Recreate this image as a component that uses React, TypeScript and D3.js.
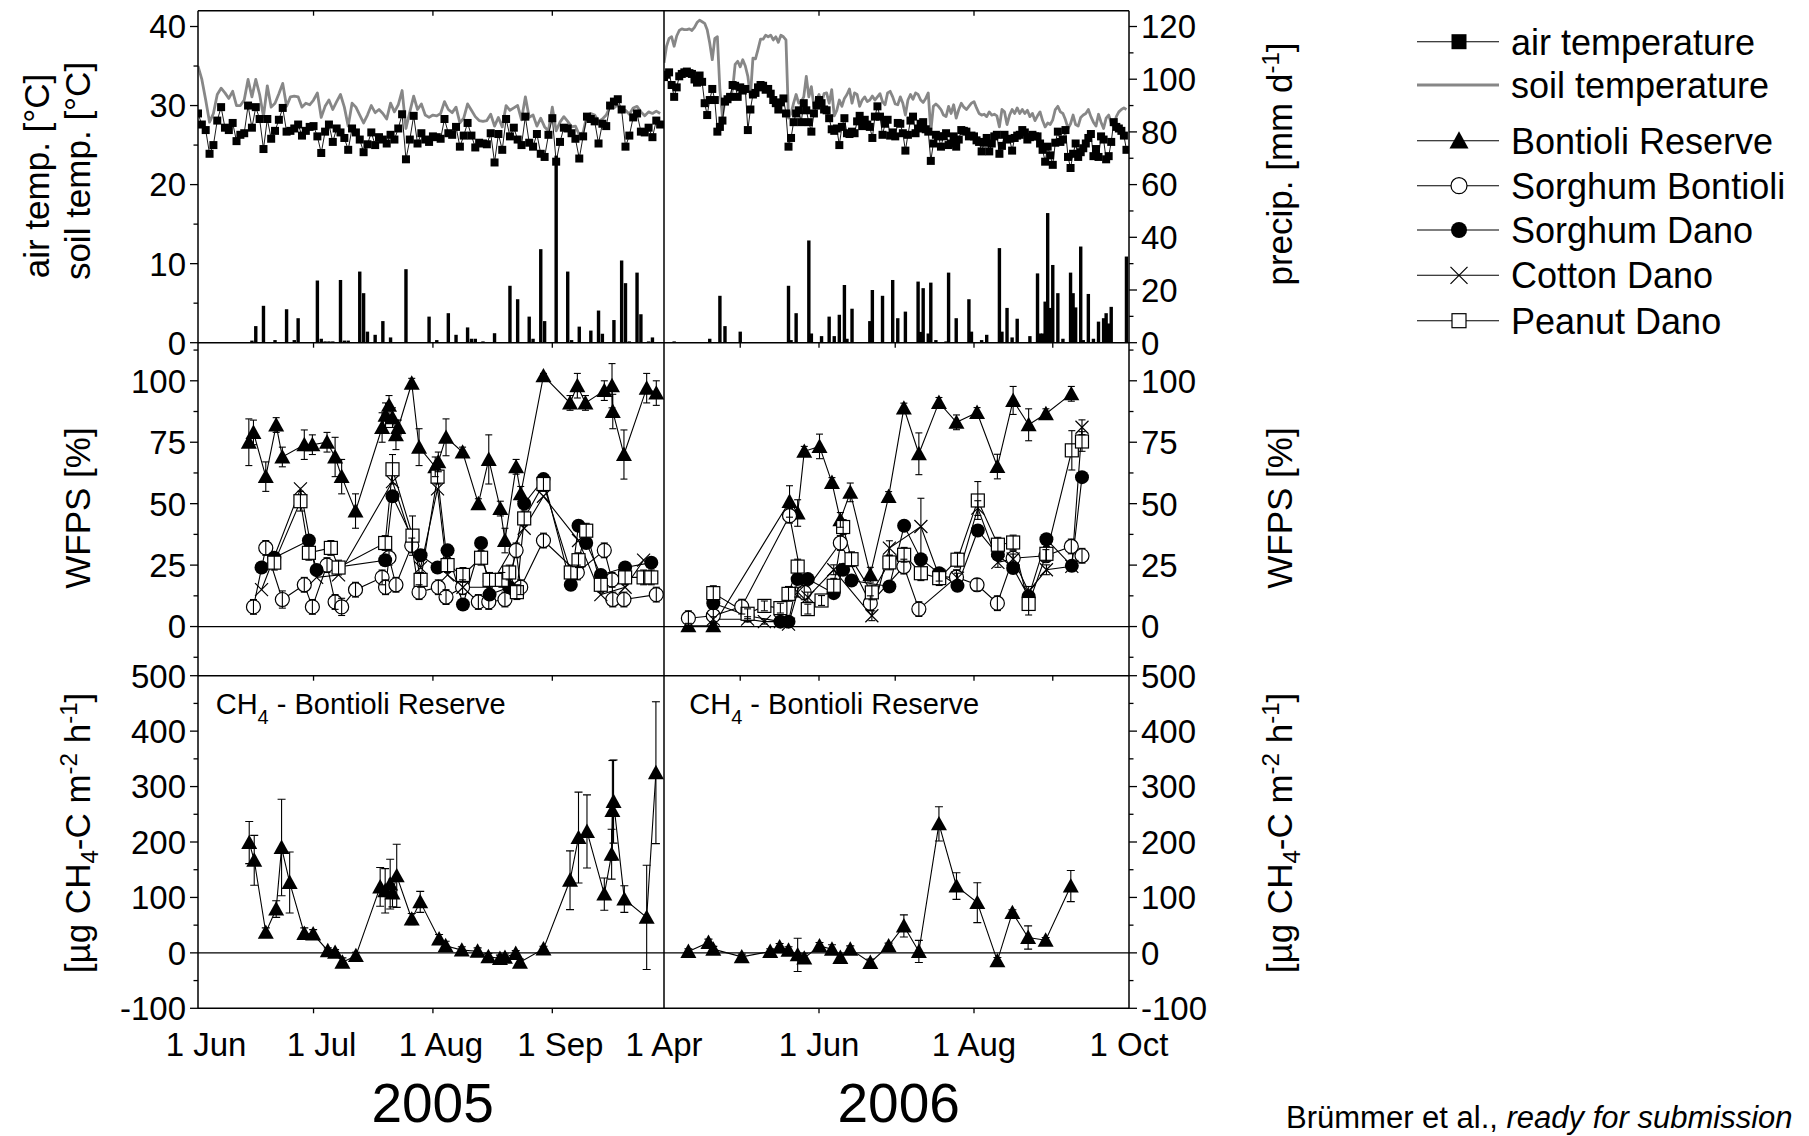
import React from 'react';
import * as d3 from 'd3';

const FONT = '"Liberation Sans", Arial, Helvetica, sans-serif';
const TICK_FONT = 33;
const TITLE_FONT = 35;
const LEGEND_FONT = 36;

// Season windows of the two columns
const START_2005 = new Date(2005, 5, 1);
const END_2005 = new Date(2005, 8, 30);
const START_2006 = new Date(2006, 3, 1);
const END_2006 = new Date(2006, 9, 1);

// Daily air / soil temperature (°C) from 1 Jun 2005
const airTemp2005 = [
  29.0, 27.6, 26.9, 23.9, 25.0, 28.1, 29.8, 27.2, 26.9, 27.8,
  25.5, 26.3, 26.5, 30.0, 27.2, 29.8, 28.3, 24.5, 28.3, 25.8,
  26.8, 28.2, 29.7, 26.7, 26.8, 27.1, 27.6, 26.2, 26.8, 27.3,
  27.4, 26.1, 24.0, 26.7, 27.6, 25.4, 27.1, 26.6, 25.9, 24.4,
  27.1, 26.6, 25.7, 24.1, 25.1, 26.6, 25.0, 26.0, 25.7, 25.2,
  26.3, 25.7, 27.1, 28.9, 23.2, 25.7, 28.7, 25.2, 26.5, 25.7,
  25.4, 26.1,
  26.0, 25.8, 28.3, 26.5, 26.3, 27.3, 24.8, 26.2, 27.8, 26.2,
  24.7, 25.3, 25.2, 25.1, 26.5, 22.8, 26.4, 24.4, 28.3, 26.1,
  27.2, 25.7, 25.0, 28.6, 25.3, 24.8, 26.4, 23.9, 23.5, 26.3,
  28.4, 22.9, 25.4, 27.2, 27.1, 26.5, 25.8, 23.3, 26.1, 28.6,
  28.3, 28.0, 25.2, 27.7, 27.4, 30.0, 30.5, 30.8, 29.5, 24.8,
  26.2, 28.5, 29.0, 26.7, 26.6, 27.2, 26.0, 28.1, 27.6,
];
const soilTemp2005 = [
  35.0, 33.3, 30.7, 27.9, 29.0, 31.4, 32.2, 31.6, 30.9, 31.8,
  30.0, 30.0, 30.7, 33.3, 31.1, 33.3, 31.4, 28.6, 32.5, 29.8,
  30.3, 31.5, 32.8, 29.9, 31.1, 31.2, 31.1, 29.8, 30.3, 30.1,
  30.7, 31.6, 28.5, 29.9, 30.7, 29.5, 30.5, 31.4, 29.8, 27.4,
  30.3, 29.8, 28.8, 27.8, 28.8, 30.0, 29.1, 29.5, 29.0, 28.3,
  30.3, 29.2, 30.1, 31.9, 27.1, 29.2, 31.2, 29.5, 30.2, 28.8,
  28.5, 28.8,
  28.7, 29.0, 30.5, 29.5, 29.1, 29.8, 27.8, 28.4, 30.2, 29.4,
  28.6, 28.1, 28.0, 28.1, 28.9, 27.4, 28.5, 27.3, 30.0, 29.4,
  29.7, 30.0, 28.2, 31.1, 28.5, 28.8, 27.4, 28.4, 27.3, 26.8,
  29.8, 26.8, 27.9, 28.6, 28.0, 27.3, 27.4, 26.3, 26.6, 28.8,
  29.0, 28.8, 28.0, 28.3, 28.8, 29.9, 29.7, 30.1, 29.2, 29.4,
  28.9, 29.7, 29.9, 29.2, 28.7, 29.2, 29.0, 29.3, 29.0,
];

// Daily air / soil temperature (°C) from 1 Apr 2006
const airTemp2006 = [
  33.6, 33.9, 34.2, 32.6, 31.1, 32.3, 33.7, 34.0, 34.2, 34.3,
  34.1, 34.0, 33.3, 32.9, 33.8, 33.0, 30.3, 28.8, 30.7, 32.1,
  30.7, 26.7, 27.3, 28.1, 30.5, 30.8, 31.1, 32.6, 32.5, 31.1,
  32.3, 31.9, 32.1, 26.9, 29.5, 31.4, 31.6, 32.3, 32.6, 32.5,
  32.0, 32.1, 31.5, 30.7, 30.3, 29.5, 30.4, 30.9, 29.0, 24.8,
  25.9, 27.9, 29.0, 29.4, 27.9, 30.3, 29.4, 27.9, 26.7, 29.0,
  30.0, 30.7, 30.3, 29.5, 29.4, 28.4, 27.0, 26.8, 27.1, 25.0,
  27.3, 28.4, 26.5, 26.4, 26.7, 26.5, 28.0, 28.7, 27.4, 28.2,
  27.6, 27.3, 25.9, 28.6, 29.9, 28.6, 26.3, 27.7, 28.2, 26.2,
  26.6, 26.1, 27.8,
  27.7, 26.5, 24.3, 26.3, 28.1, 28.6, 26.5, 27.1, 27.7, 27.9,
  27.0, 26.7, 23.0, 25.2, 26.3, 26.1, 24.8, 26.1, 26.5, 25.0,
  25.2, 26.1, 24.8, 25.7, 26.9, 26.8, 26.7, 26.1, 26.2, 26.1,
  25.6, 25.4, 24.2, 25.3, 25.9, 24.2, 25.2, 26.1, 26.3, 23.9,
  24.9, 26.3, 25.7, 25.8, 24.3, 25.9, 26.2, 26.3, 26.9, 26.6,
  25.7, 26.0, 26.3, 26.1, 26.1, 25.2, 24.4, 22.9, 24.8, 23.7,
  22.5, 25.3, 26.7, 25.4, 25.7, 26.9, 23.5, 22.1, 23.9, 25.2,
  23.5, 24.1, 24.6, 25.2, 25.9, 26.4, 23.6, 24.5, 23.5, 26.1,
  25.7, 23.2, 23.6, 25.4, 27.9, 27.3, 27.1, 26.8, 26.2, 24.4,
];
const soilTemp2006 = [
  35.4, 37.5, 38.5, 38.7, 37.5, 38.8, 39.5, 39.7, 39.6, 39.6,
  39.7, 39.5, 39.9, 40.5, 40.8, 40.6, 40.4, 39.6, 37.9, 35.8,
  38.5, 38.7, 32.0, 28.6, 30.7, 31.1, 31.1, 32.0, 35.2, 35.6,
  34.9, 35.8, 35.0, 33.7, 31.1, 36.0, 35.9, 37.1, 38.4, 38.4,
  38.9, 38.7, 38.9, 38.3, 38.7, 38.0, 38.9, 38.7, 38.3, 28.4,
  29.0, 30.3, 31.4, 30.3, 30.5, 31.1, 33.7, 31.1, 32.4, 29.9,
  30.7, 31.4, 30.3, 31.5, 31.6, 30.3, 32.0, 28.7, 29.4, 30.7,
  29.9, 30.9, 31.4, 32.1, 30.3, 31.6, 31.4, 29.9, 30.7, 31.1,
  30.5, 30.7, 31.2, 30.7, 31.1, 31.5, 30.5, 30.1, 31.6, 31.8,
  31.1, 30.2, 30.1,
  31.1, 30.3, 28.8, 30.7, 31.4, 30.8, 31.6, 31.4, 30.7,
  30.4, 30.9, 31.6, 26.7, 29.9, 30.2, 29.9, 29.5, 28.8, 28.6,
  29.9, 29.0, 30.1, 28.4, 29.5, 30.3, 29.8, 29.5, 29.9, 30.3,
  30.5, 29.7, 29.0, 28.8, 28.9, 28.6, 29.2, 28.8, 28.9, 28.7,
  27.3, 29.5, 29.2, 27.6, 28.8, 29.5, 29.0, 29.7, 29.0, 29.5,
  29.0, 29.4, 28.6, 29.0, 28.1, 28.7, 29.2, 28.1, 27.3, 27.8,
  27.6, 28.2, 29.5, 29.9, 29.2, 29.0, 28.2, 27.1, 27.7, 28.8,
  27.6, 27.4, 28.5, 28.8, 29.0, 29.5, 28.6, 27.9, 27.4, 28.9,
  27.9, 27.1, 28.4, 28.8, 27.8, 27.3, 28.6, 29.2, 29.5, 29.7,
  29.5,
];

// Daily precipitation (mm d-1); day = days after season start
const precipDay2005 = [14, 15, 17, 20, 23, 25, 26, 31, 32, 33, 34, 35, 37, 38, 39, 42, 43, 44, 46, 48, 50, 54, 60, 62, 65, 67, 70, 71, 72, 74, 77, 81, 83, 86, 87, 89, 90, 93, 96, 97, 99, 102, 104, 105, 108, 110, 111, 112, 114, 115, 117, 118];
const precipMm2005 = [0.8, 6.3, 14, 1, 12.7, 1, 9.3, 23.6, 1.5, 0.5, 0.5, 0.5, 23.8, 0.8, 0.8, 27, 18.8, 4.2, 3, 8.2, 2, 27.9, 9.9, 1, 11.2, 3, 5.8, 1.5, 1.5, 0.5, 3.6, 21.6, 16.5, 9.9, 1.5, 35.5, 8.2, 71, 27, 1, 6.1, 4.6, 12.2, 3.4, 8.6, 31.2, 22.6, 0.5, 26.6, 10.8, 0.5, 2];
const precipDay2006 = [4, 18, 22, 24, 30, 49, 50, 52, 57, 58, 62, 65, 67, 69, 71, 72, 74, 81, 82, 86, 90, 92, 95, 100, 101, 102, 104, 105, 107, 111, 112, 115, 120, 121, 125, 127, 132, 133, 135, 137, 139, 144, 147, 148, 149, 150, 151, 152, 153, 155, 157, 160, 161, 162, 164, 165, 167, 169, 171, 173, 174, 175, 176, 182];
const precipMm2006 = [0.5, 1.5, 17.8, 6.3, 4.2, 21.6, 1, 11.2, 38.8, 3.5, 2.5, 9.9, 2.5, 10.6, 21.9, 1.5, 12.9, 8.2, 20, 17.8, 23.8, 9.3, 11.8, 23.2, 4.1, 20.7, 3.5, 22.8, 1, 0.5, 26.6, 9.3, 16.5, 4.2, 1, 3, 35.9, 4.2, 13.2, 2, 9.1, 2.5, 26.3, 3.5, 3.5, 15.6, 49.2, 13.2, 29.5, 18.8, 1.5, 26.6, 18.8, 13.4, 36.5, 1, 18.5, 1.5, 8, 9.3, 11.2, 7.3, 13.6, 32.7];

// WFPS (%) at the Bontioli site, 2005 (day = days after 1 Jun)
const bontioliDay2005 = [13.2, 14.4, 17.6, 20.3, 21.9, 27.6, 29.7, 33.5, 35.6, 37.3, 40.9, 47.8, 48.7, 49.6, 50.5, 51.4, 52.0, 55.5, 57.4, 61.6, 62.4, 64.4, 68.7, 72.8, 75.5, 78.5, 79.7, 82.6, 83.8, 89.7, 96.6, 98.5, 100.6, 105.5, 107.5, 107.7, 110.6, 116.5, 119.0];
const wfpsReserve2005 = [75, 79, 61, 82, 69, 74, 74, 75, 69, 61, 47, 81, 86, 90, 85, 78, 81, 99, 73, 65, 67, 77, 71, 50, 68, 48, 35, 65, 54, 102, 91, 98, 91, 96, 98, 87.5, 70, 97, 95];
const wfpsReserveSd2005 = [9.5, 5, 6, 3, 4, 6, 4, 4, 8, 7, 7, 6, 5, 4, 4, 6, 3, 2, 7.5, 4, 4, 7.5, 2, 2, 10, 3, 5, 3, 3, 1, 3, 5, 3, 4, 9, 7, 10, 6, 5];
const wfpsSorghumB2005 = [null, 8, 32, null, 11, 17, 8, 25, 10, 8, 15, 20, 16, 28, null, 17, null, 33, 14, null, 16, 12, 16, 10, 10, null, 11, 31, 16, 35, null, 22, null, 31, 19, 11, 11, null, 13];
const wfpsSorghumBSd2005 = [null, 3, 3, null, 3.5, 3, 3, 3, 3, 3.5, 3, 3, 3, 3, null, 3, null, 3, 3, null, 3, 3, 3, 3, 3, null, 3, 3, 3, 3, null, 3, null, 3, 3, 3, 3, null, 3];

// WFPS (%) at the Dano site, 2005
const danoDay2005 = [16.5, 19.8, 26.6, 28.8, 30.8, 34.5, 36.5, 48.6, 50.5, 55.7, 57.8, 62.2, 64.8, 68.8, 73.5, 75.7, 78.9, 80.8, 82.8, 84.7, 89.7, 96.8, 98.8, 100.8, 104.6, 110.9, 115.7, 117.7];
const wfpsSorghumD2005 = [24, 28, null, 35, 23, null, null, 27, 53, null, 29, 24, 31, 9, 34, 13, null, 16, null, 50, 60, 17, 41, 34, 21, 24, null, 26];
const wfpsCotton2005 = [15, null, 56, null, 20, null, 21, null, 59, null, 24, 56, 21, 16, null, 16, null, null, null, 40, 53, null, 35, null, 13, 16, 27, null];
const wfpsPeanut2005 = [null, 26, 51, 30, null, 32, 24, 34, 64, 37, 19, 61, 25, 21, 28, 19, 19, 22, 14, 44, 58, 22, 27, 39, 17, 20, 20, 20];
const wfpsPeanutSd2005 = [null, 3, 4, 3, null, 3, 3, 3, 6, 8, 3, 3, 3, 3, 3, 3, 3, 3, 3, 3, 3, 3, 3, 3, 3, 3, 3, 3];

// WFPS (%) at the Bontioli site, 2006 (day = days after 1 Apr)
const bontioliDay2006 = [9.6, 19.4, 30.6, 49.4, 52.6, 55.2, 61.2, 66.1, 69.4, 73.3, 81.2, 88.4, 94.4, 100.3, 108.2, 115.1, 123.2, 131.2, 137.4, 143.5, 150.3, 160.3, 164.5];
const wfpsReserve2006 = [0.3, 0.3, null, 50.9, 46.2, 71.3, 73.3, 58.6, 43.4, 54.6, 21.1, 52.9, 88.9, 70.3, 91.2, 83.1, 87.1, 65.1, 92.0, 82.1, 86.6, 94.7, null];
const wfpsReserveSd2006 = [1, 1, null, 6.4, 5.4, 2, 5, 2, 3, 3.8, 3, 2, 2, 8.5, 2, 3, 2, 5, 5.7, 6.5, 2, 3, null];
const wfpsSorghumB2006 = [3.4, 4.4, 8.1, 45.1, null, 13.9, null, null, 34.0, null, 9.5, null, 24.4, 7.1, null, 20.1, 17.0, 9.5, 27.8, null, 28.8, 32.6, 28.8];
const wfpsSorghumBSd2006 = [3, 3, 3, 3, null, 3, null, null, 3, null, 3, null, 3, 3, null, 3, 2.5, 3, 3, null, 2.5, 3, 3];

// WFPS (%) at the Dano site, 2006
const danoDay2006 = [19.4, 32.9, 39.5, 45.8, 49.0, 52.6, 56.6, 62.0, 66.8, 70.5, 73.8, 81.8, 88.7, 94.5, 101.1, 108.3, 115.5, 123.5, 131.4, 137.4, 143.5, 150.5, 160.5, 164.5];
const wfpsSorghumD2006 = [9.5, 4.4, null, 2, 2, 19.3, 19.3, null, 13.6, 23.1, 18.7, null, 16.3, 41.0, 27.4, 21.7, 16.6, 39.1, 29.2, 23.8, 12.2, 35.5, 24.7, 60.8];
const wfpsCotton2006 = [3, 3, 2, 2, 1, 14, 12, null, 23.1, null, null, 4.4, 31.9, null, 40.7, 20.5, 19.7, 48.2, 26.1, 27.5, 14.3, 23.1, 24.5, 81.1];
const wfpsCottonSd2006 = [1, 1, 1, 1, 1, 2, 2, null, 2, null, null, 2, 3, null, 11.5, 2, 2, 3, 2, 2, 2, 2, 2, 3];
const wfpsPeanut2006 = [13.6, 5.2, 8.4, 7.5, 13.3, 24.4, 7.1, 10.6, 16.6, 40.5, 27.4, 13.9, 26.1, 29.2, 21.7, 19.7, 27.2, 51.3, 33.3, 34.2, 9.2, 29.6, 71.7, 75.3];
const wfpsPeanutSd2006 = [3, 2, 2, 2, 3, 3, 2, 2, 3, 3, 3, 3, 3, 3, 3, 3, 3, 7.7, 3, 3, 4.5, 3, 8, 4];

// CH4 flux (µg CH4-C m-2 h-1), Bontioli Reserve
const ch4Day2005 = [13.3, 14.6, 17.6, 20.3, 21.7, 23.8, 27.6, 29.9, 33.7, 35.6, 37.5, 41.0, 47.3, 48.6, 49.9, 50.5, 51.6, 55.5, 57.7, 62.6, 64.3, 68.5, 72.6, 75.4, 78.4, 79.7, 82.5, 83.6, 89.7, 96.6, 98.8, 101.0, 105.5, 107.4, 107.6, 107.9, 110.7, 116.5, 118.9];
const ch4Reserve2005 = [199, 167, 37, 79, 190, 127, 35, 34, 4, 1, -17, -5, 119, 112, 124, 108, 139, 61, 92, 25, 13, 5, 3, -7, -10, -8, -1, -17, 7, 131, 208, 219, 106, 178, 257, 273, 97, 64, 325];
const ch4ReserveSd2005 = [38, 45, 8, 15, 87, 55, 10, 8, 5, 5, 8, 6, 35, 40, 45, 25, 57, 10, 19, 8, 8, 6, 6, 6, 6, 6, 5, 6, 5, 53, 82, 66, 29, 45, 90, 75, 24, 94, 128];
const ch4Day2006 = [9.6, 17.5, 19.4, 30.6, 41.8, 45.5, 49.0, 52.6, 55.2, 61.2, 66.1, 69.4, 73.3, 81.2, 88.4, 94.4, 100.3, 108.2, 115.1, 123.3, 131.2, 137.1, 143.3, 150.2, 160.1];
const ch4Reserve2006 = [2.5, 18.7, 6.7, -7.2, 2.5, 10.8, 4.9, -3.6, -9.5, 12.6, 6.7, -8.3, 6.7, -17.3, 12.6, 48.6, 2.5, 232.7, 120.5, 90.6, -14.4, 72.7, 27.7, 22.8, 120.5];
const ch4ReserveSd2006 = [5, 6, 5, 5, 5, 6, 6, 30, 8, 6, 8, 6, 6, 6, 5, 20, 20, 31, 24, 36, 6, 5, 21, 5, 28];

// Axis ticks
const tempTicks = [0, 10, 20, 30, 40];
const tempMinor = [5, 15, 25, 35];
const precipTicks = [0, 20, 40, 60, 80, 100, 120];
const precipMinor = [10, 30, 50, 70, 90, 110];
const wfpsTicks = [0, 25, 50, 75, 100];
const wfpsMinor = [-12.5, 12.5, 37.5, 62.5, 87.5, 112.5];
const ch4Ticks = [-100, 0, 100, 200, 300, 400, 500];
const ch4Minor = [-50, 50, 150, 250, 350, 450];
const monthLabels2005 = ['1 Jun', '1 Jul', '1 Aug', '1 Sep'];
const monthDates2005 = [new Date(2005, 5, 1), new Date(2005, 6, 1), new Date(2005, 7, 1), new Date(2005, 8, 1)];
const monthLabels2006 = ['1 Apr', '1 Jun', '1 Aug', '1 Oct'];
const monthDates2006 = [new Date(2006, 3, 1), new Date(2006, 5, 1), new Date(2006, 7, 1), new Date(2006, 9, 1)];
const monthTicks2006 = [new Date(2006, 4, 1), new Date(2006, 5, 1), new Date(2006, 6, 1), new Date(2006, 7, 1), new Date(2006, 8, 1)];

const legendItems = [
  { label: 'air temperature', kind: 'squareFill' },
  { label: 'soil temperature', kind: 'grey' },
  { label: 'Bontioli Reserve', kind: 'tri' },
  { label: 'Sorghum Bontioli', kind: 'circleOpen' },
  { label: 'Sorghum Dano', kind: 'circleFill' },
  { label: 'Cotton Dano', kind: 'cross' },
  { label: 'Peanut Dano', kind: 'squareOpen' },
];

// Layout
const X05: [number, number] = [198, 664];
const X06: [number, number] = [664, 1129];
const Y_TOP: [number, number] = [10.7, 342.7];
const Y_MID: [number, number] = [342.7, 675.7];
const Y_BOT: [number, number] = [675.7, 1008.3];
const LABEL_SHIFT_2005 = 8;

const x05 = d3.scaleTime().domain([START_2005, END_2005]).range(X05);
const x06 = d3.scaleTime().domain([START_2006, END_2006]).range(X06);
const tempY = d3.scaleLinear().domain([0, 42]).range([Y_TOP[1], Y_TOP[0]]);
const precipY = d3.scaleLinear().domain([0, 126]).range([Y_TOP[1], Y_TOP[0]]);
const wfpsY = d3.scaleLinear().domain([-20, 115.5]).range([Y_MID[1], Y_MID[0]]);
const ch4Y = d3.scaleLinear().domain([-100, 500]).range([Y_BOT[1], Y_BOT[0]]);

const at = (start: Date, day: number) => new Date(start.getTime() + day * 86400000);

type P = { day: number; v: number; sd: number };
function pts(days: number[], vals: (number | null)[], sds?: (number | null)[]): P[] {
  const out: P[] = [];
  days.forEach((day, i) => {
    const v = vals[i];
    if (v !== null && v !== undefined) {
      const s = sds ? sds[i] : null;
      out.push({ day, v, sd: s == null ? 0 : s });
    }
  });
  return out;
}

function Sym({ kind, x, y, s }: { kind: string; x: number; y: number; s: number }) {
  switch (kind) {
    case 'tri': {
      const h = s * 0.9;
      return <path d={`M${x},${y - h * 0.55}L${x + s / 2},${y + h * 0.45}L${x - s / 2},${y + h * 0.45}Z`} fill="#000" />;
    }
    case 'circleOpen':
      return <circle cx={x} cy={y} r={s / 2} fill="#fff" stroke="#000" strokeWidth={1.2} />;
    case 'circleFill':
      return <circle cx={x} cy={y} r={s / 2} fill="#000" />;
    case 'cross':
      return <path d={`M${x - s / 2},${y - s / 2}L${x + s / 2},${y + s / 2}M${x - s / 2},${y + s / 2}L${x + s / 2},${y - s / 2}`} stroke="#000" strokeWidth={1.2} fill="none" />;
    case 'squareOpen':
      return <rect x={x - s / 2} y={y - s / 2} width={s} height={s} fill="#fff" stroke="#000" strokeWidth={1.2} />;
    default:
      return <rect x={x - s / 2} y={y - s / 2} width={s} height={s} fill="#000" />;
  }
}

type Spec = { data: P[]; kind: string; size: number };

function ScatterGroup({ specs, xs, start, ys, capW = 8 }: { specs: Spec[]; xs: d3.ScaleTime<number, number>; start: Date; ys: d3.ScaleLinear<number, number>; capW?: number }) {
  const line = d3.line<P>().x((p) => xs(at(start, p.day))).y((p) => ys(p.v));
  return (
    <g>
      {specs.map((sp, i) => (
        <path key={'l' + i} d={line(sp.data) || ''} fill="none" stroke="#000" strokeWidth={1.1} />
      ))}
      {specs.map((sp, i) => (
        <g key={'s' + i}>
          {sp.data.map((p, j) => (
            <Sym key={j} kind={sp.kind} x={xs(at(start, p.day))} y={ys(p.v)} s={sp.size} />
          ))}
        </g>
      ))}
      {specs.map((sp, i) => (
        <g key={'e' + i} stroke="#000" strokeWidth={1.1}>
          {sp.data.filter((p) => p.sd > 0).map((p, j) => {
            const x = xs(at(start, p.day));
            const y1 = ys(p.v - p.sd);
            const y2 = ys(p.v + p.sd);
            return (
              <g key={j}>
                <line x1={x} x2={x} y1={y1} y2={y2} />
                <line x1={x - capW / 2} x2={x + capW / 2} y1={y1} y2={y1} />
                <line x1={x - capW / 2} x2={x + capW / 2} y1={y2} y2={y2} />
              </g>
            );
          })}
        </g>
      ))}
    </g>
  );
}

function TempPanel({ xs, start, air, soil, pDay, pMm }: { xs: d3.ScaleTime<number, number>; start: Date; air: number[]; soil: number[]; pDay: number[]; pMm: number[] }) {
  const tLine = d3.line<number>().x((_, i) => xs(at(start, i))).y((v) => tempY(v));
  return (
    <g>
      {pDay.map((d, i) => {
        const x = xs(at(start, d));
        return <rect key={i} x={x - 1.7} width={3.4} y={precipY(pMm[i])} height={precipY(0) - precipY(pMm[i])} fill="#000" />;
      })}
      <path d={tLine(soil) || ''} fill="none" stroke="#878787" strokeWidth={2.8} strokeLinejoin="round" />
      <path d={tLine(air) || ''} fill="none" stroke="#000" strokeWidth={0.9} />
      {air.map((v, i) => (
        <rect key={i} x={xs(at(start, i)) - 4} y={tempY(v) - 4} width={8} height={8} fill="#000" />
      ))}
    </g>
  );
}

function YAxis({ scale, major, minor, side, x }: { scale: d3.ScaleLinear<number, number>; major: number[]; minor: number[]; side: 'left' | 'right'; x: number }) {
  const dir = side === 'left' ? -1 : 1;
  return (
    <g>
      {major.map((v) => (
        <line key={'M' + v} x1={x} x2={x + dir * 8} y1={scale(v)} y2={scale(v)} stroke="#000" strokeWidth={1.3} />
      ))}
      {minor.map((v) => (
        <line key={'m' + v} x1={x} x2={x + dir * 4.5} y1={scale(v)} y2={scale(v)} stroke="#000" strokeWidth={1.3} />
      ))}
      {major.map((v) => (
        <text key={'t' + v} x={x + dir * 12} y={scale(v)} dy="0.36em" textAnchor={side === 'left' ? 'end' : 'start'} fontSize={TICK_FONT}>
          {String(v)}
        </text>
      ))}
    </g>
  );
}

function XTicks({ xs, dates, y, len = 5 }: { xs: d3.ScaleTime<number, number>; dates: Date[]; y: number; len?: number }) {
  return (
    <g stroke="#000" strokeWidth={1.3}>
      {dates.map((d, i) => (
        <line key={i} x1={xs(d)} x2={xs(d)} y1={y} y2={y + len} />
      ))}
    </g>
  );
}

function VTitle({ x, y, children }: { x: number; y: number; children: React.ReactNode }) {
  return (
    <text transform={`translate(${x},${y}) rotate(-90)`} textAnchor="middle" dy="0.35em" fontSize={TITLE_FONT}>
      {children}
    </text>
  );
}

function Ch4Title({ x, y }: { x: number; y: number }) {
  return (
    <VTitle x={x} y={y}>
      [µg CH<tspan fontSize={24} dy="8">4</tspan>
      <tspan dy="-8">-C m</tspan>
      <tspan fontSize={24} dy="-13">-2</tspan>
      <tspan dy="13"> h</tspan>
      <tspan fontSize={24} dy="-13">-1</tspan>
      <tspan dy="13">]</tspan>
    </VTitle>
  );
}

function InnerLabel({ x, y }: { x: number; y: number }) {
  return (
    <text x={x} y={y} fontSize={29}>
      CH<tspan fontSize={20} dy="10">4</tspan>
      <tspan dy="-10"> - Bontioli Reserve</tspan>
    </text>
  );
}

function LegendSym({ kind, x, y }: { kind: string; x: number; y: number }) {
  if (kind === 'grey') return null;
  const size = kind === 'tri' ? 19 : kind === 'cross' ? 17 : kind === 'squareOpen' ? 14 : kind === 'squareFill' ? 15 : 16;
  return <Sym kind={kind} x={x} y={y} s={size} />;
}

export default function App() {
  const y2005 = {
    br: pts(bontioliDay2005, wfpsReserve2005, wfpsReserveSd2005),
    sb: pts(bontioliDay2005, wfpsSorghumB2005, wfpsSorghumBSd2005),
    sd: pts(danoDay2005, wfpsSorghumD2005),
    cd: pts(danoDay2005, wfpsCotton2005),
    pd: pts(danoDay2005, wfpsPeanut2005, wfpsPeanutSd2005),
  };
  const y2006 = {
    br: pts(bontioliDay2006, wfpsReserve2006, wfpsReserveSd2006),
    sb: pts(bontioliDay2006, wfpsSorghumB2006, wfpsSorghumBSd2006),
    sd: pts(danoDay2006, wfpsSorghumD2006),
    cd: pts(danoDay2006, wfpsCotton2006, wfpsCottonSd2006),
    pd: pts(danoDay2006, wfpsPeanut2006, wfpsPeanutSd2006),
  };
  const wfpsSpecs = (s: typeof y2005): Spec[] => [
    { data: s.br, kind: 'tri', size: 16 },
    { data: s.sb, kind: 'circleOpen', size: 14 },
    { data: s.sd, kind: 'circleFill', size: 14 },
    { data: s.cd, kind: 'cross', size: 13 },
    { data: s.pd, kind: 'squareOpen', size: 13 },
  ];
  const legendY = [41.7, 85, 140.7, 185.7, 230, 275.3, 320.7];

  return (
    <svg width={1809} height={1136} style={{ position: 'absolute', left: 0, top: 0, background: '#fff' }} fontFamily={FONT}>
      <defs>
        <clipPath id="clipL"><rect x={X05[0]} y={Y_TOP[0]} width={X05[1] - X05[0]} height={Y_BOT[1] - Y_TOP[0]} /></clipPath>
        <clipPath id="clipR"><rect x={X06[0]} y={Y_TOP[0]} width={X06[1] - X06[0]} height={Y_BOT[1] - Y_TOP[0]} /></clipPath>
      </defs>
      <rect width={1809} height={1136} fill="#fff" />

      {/* zero reference lines */}
      <line x1={X05[0]} x2={X06[1]} y1={wfpsY(0)} y2={wfpsY(0)} stroke="#000" strokeWidth={1.2} />
      <line x1={X05[0]} x2={X06[1]} y1={ch4Y(0)} y2={ch4Y(0)} stroke="#000" strokeWidth={1.2} />

      <g clipPath="url(#clipL)">
        <TempPanel xs={x05} start={START_2005} air={airTemp2005} soil={soilTemp2005} pDay={precipDay2005} pMm={precipMm2005} />
        <ScatterGroup specs={wfpsSpecs(y2005)} xs={x05} start={START_2005} ys={wfpsY} capW={7} />
        <ScatterGroup specs={[{ data: pts(ch4Day2005, ch4Reserve2005, ch4ReserveSd2005), kind: 'tri', size: 16 }]} xs={x05} start={START_2005} ys={ch4Y} capW={8} />
      </g>
      <g clipPath="url(#clipR)">
        <TempPanel xs={x06} start={START_2006} air={airTemp2006} soil={soilTemp2006} pDay={precipDay2006} pMm={precipMm2006} />
        <ScatterGroup specs={wfpsSpecs(y2006)} xs={x06} start={START_2006} ys={wfpsY} capW={7} />
        <ScatterGroup specs={[{ data: pts(ch4Day2006, ch4Reserve2006, ch4ReserveSd2006), kind: 'tri', size: 16 }]} xs={x06} start={START_2006} ys={ch4Y} capW={8} />
      </g>

      {/* frames */}
      <g stroke="#000" strokeWidth={1.5} fill="none">
        {[Y_TOP[0], Y_TOP[1], Y_MID[1], Y_BOT[1]].map((y) => (
          <line key={y} x1={X05[0]} x2={X06[1]} y1={y} y2={y} />
        ))}
        {[X05[0], X05[1], X06[1]].map((x) => (
          <line key={x} x1={x} x2={x} y1={Y_TOP[0]} y2={Y_BOT[1]} />
        ))}
      </g>

      {/* time ticks */}
      {[Y_TOP[0], Y_TOP[1], Y_MID[1], Y_BOT[1]].map((y) => (
        <XTicks key={'a' + y} xs={x05} dates={monthDates2005.slice(1)} y={y} />
      ))}
      {[Y_TOP[0], Y_BOT[1]].map((y) => (
        <XTicks key={'b' + y} xs={x06} dates={monthDates2006.slice(1, 3)} y={y} />
      ))}
      {[Y_TOP[1], Y_MID[1]].map((y) => (
        <XTicks key={'c' + y} xs={x06} dates={monthTicks2006} y={y} />
      ))}
      {monthLabels2005.map((l, i) => (
        <text key={l} x={x05(monthDates2005[i]) + LABEL_SHIFT_2005} y={1056} textAnchor="middle" fontSize={TICK_FONT}>{l}</text>
      ))}
      {monthLabels2006.map((l, i) => (
        <text key={l} x={x06(monthDates2006[i])} y={1056} textAnchor="middle" fontSize={TICK_FONT}>{l}</text>
      ))}

      {/* value axes */}
      <YAxis scale={tempY} major={tempTicks} minor={tempMinor} side="left" x={X05[0]} />
      <YAxis scale={precipY} major={precipTicks} minor={precipMinor} side="right" x={X06[1]} />
      <YAxis scale={wfpsY} major={wfpsTicks} minor={wfpsMinor} side="left" x={X05[0]} />
      <YAxis scale={wfpsY} major={wfpsTicks} minor={wfpsMinor} side="right" x={X06[1]} />
      <YAxis scale={ch4Y} major={ch4Ticks} minor={ch4Minor} side="left" x={X05[0]} />
      <YAxis scale={ch4Y} major={ch4Ticks} minor={ch4Minor} side="right" x={X06[1]} />

      {/* axis titles */}
      <VTitle x={37} y={176}>air temp. [°C]</VTitle>
      <VTitle x={78} y={171}>soil temp. [°C]</VTitle>
      <VTitle x={78} y={508}>WFPS [%]</VTitle>
      <Ch4Title x={78} y={833} />
      <VTitle x={1280} y={164}>
        precip. [mm d<tspan fontSize={24} dy="-13">-1</tspan><tspan dy="13">]</tspan>
      </VTitle>
      <VTitle x={1280} y={508}>WFPS [%]</VTitle>
      <Ch4Title x={1280} y={833} />

      <InnerLabel x={215.7} y={714.3} />
      <InnerLabel x={689.3} y={714.3} />

      {/* legend */}
      {legendItems.map((it, i) => {
        const y = legendY[i];
        return (
          <g key={it.label}>
            {it.kind === 'grey' ? (
              <line x1={1417} x2={1499} y1={y} y2={y} stroke="#878787" strokeWidth={2.8} />
            ) : (
              <line x1={1417} x2={1499} y1={y} y2={y} stroke="#000" strokeWidth={1.1} />
            )}
            <LegendSym kind={it.kind} x={1459} y={y} />
            <text x={1511} y={y} dy="0.36em" fontSize={LEGEND_FONT}>{it.label}</text>
          </g>
        );
      })}

      <text x={432.6} y={1122} textAnchor="middle" fontSize={55}>2005</text>
      <text x={898.7} y={1122} textAnchor="middle" fontSize={55}>2006</text>
      <text x={1286} y={1128} fontSize={31}>
        Brümmer et al., <tspan fontStyle="italic">ready for submission</tspan>
      </text>
    </svg>
  );
}
